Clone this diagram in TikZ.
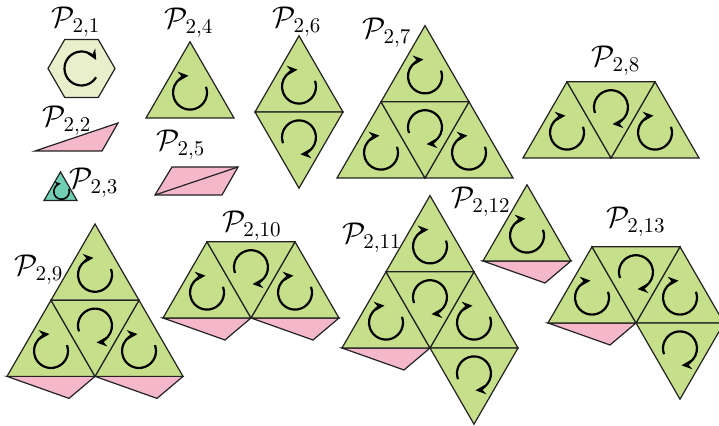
\RequirePackage{fix-cm}
\documentclass[tikz,border=0pt]{standalone}
\usetikzlibrary{arrows.meta}
\definecolor{tgreen}{HTML}{C5DF8A}
\definecolor{tpink}{HTML}{F5B8CB}
\definecolor{thex}{HTML}{E9EECB}
\definecolor{tteal}{HTML}{70CFB2}
\definecolor{tedge}{HTML}{222222}
\tikzset{
  tri/.style={fill=tgreen,draw=tedge,line width=0.6pt,line join=miter},
  flap/.style={fill=tpink,draw=tedge,line width=0.6pt},
  arw/.style={draw=black,line width=1.1pt,-{Stealth[length=5.2pt,width=4.8pt]}},
  arwsmall/.style={draw=black,line width=0.8pt,-{Stealth[length=3pt,width=2.8pt]}},
  lab/.style={inner sep=0pt,font=\fontsize{15}{18}\selectfont},
}
\newcommand{\TUp}[2]{%
  \filldraw[tri] (#1,#2) -- ++(88,0) -- ++(-44,-76.2) -- cycle;
  \draw[arw,shift={(#1+44,#2-25.4)}] (20:8.5pt) arc[start angle=20,end angle=-265,radius=8.5pt];}
\newcommand{\TDn}[2]{%
  \filldraw[tri] (#1,#2) -- ++(88,0) -- ++(-44,76.2) -- cycle;
  \draw[arw,shift={(#1+44,#2+25.4)}] (200:8.5pt) arc[start angle=200,end angle=-85,radius=8.5pt];}
\newcommand{\Flap}[2]{%
  \filldraw[flap] (#1,#2) -- ++(62,22) -- ++(26,-22) -- cycle;}
\begin{document}
\begin{tikzpicture}[x=0.5pt,y=-0.5pt]
\useasboundingbox (0,0) rectangle (719,426);
% P21 hexagon
\filldraw[fill=thex,draw=tedge,line width=0.6pt]
  (48,68.5) -- (64.75,39.5) -- (98.25,39.5) -- (115,68.5) -- (98.25,97.5) -- (64.75,97.5) -- cycle;
\draw[arw,shift={(81.5,68.5)}] (-31:8.5pt) arc[start angle=-31,end angle=-330,radius=8.5pt];
\node[lab] (l21) at (76,22) {$\mathcal{P}_{2,1}$};
% P22
\filldraw[flap] (35,151) -- (118,123) -- (102,151) -- cycle;
\node[lab] (l22) at (67,121) {$\mathcal{P}_{2,2}$};
% P23
\filldraw[fill=tteal,draw=tedge,line width=0.6pt] (44,200.5) -- (77,200.5) -- (60.5,171.9) -- cycle;
\draw[arwsmall,shift={(61.5,191.5)}] (20:3.9pt) arc[start angle=20,end angle=-265,radius=3.9pt];
\node[lab] (l23) at (94,183) {$\mathcal{P}_{2,3}$};
% P24
\TUp{146}{118}
\node[lab] (l24) at (189,23) {$\mathcal{P}_{2,4}$};
% P25
\filldraw[flap] (155,195) -- (172,167) -- (238,167) -- (222,195) -- cycle;
\draw[tedge,line width=0.6pt] (155,195) -- (238,167);
\node[lab] (l25) at (181,145) {$\mathcal{P}_{2,5}$};
% P26
\TUp{255}{112}
\TDn{255}{112}
\node[lab] (l26) at (297,22) {$\mathcal{P}_{2,6}$};
% P27
\TUp{337}{178}
\TUp{425}{178}
\TUp{381}{101.8}
\TDn{381}{101.8}
\node[lab] (l27) at (387,33) {$\mathcal{P}_{2,7}$};
% P28
\TUp{523}{158}
\TUp{611}{158}
\TDn{567}{81.8}
\node[lab] (l28) at (616,61) {$\mathcal{P}_{2,8}$};
% P29
\Flap{7}{376.4}
\Flap{95}{376.4}
\TUp{7}{376.4}
\TUp{95}{376.4}
\TUp{51}{300.2}
\TDn{51}{300.2}
\node[lab] (l29) at (39,270) {$\mathcal{P}_{2,9}$};
% P210
\Flap{163}{318}
\Flap{251}{318}
\TUp{163}{318}
\TUp{251}{318}
\TDn{207}{241.8}
\node[lab] (l210) at (252,226) {$\mathcal{P}_{2,10}$};
% P211
\Flap{342}{348}
\TUp{342}{348}
\TUp{430}{348}
\TUp{386}{271.8}
\TDn{386}{271.8}
\TDn{430}{348}
\node[lab] (l211) at (372,238) {$\mathcal{P}_{2,11}$};
% P212
\Flap{483}{261}
\TUp{483}{261}
\node[lab] (l212) at (481,202) {$\mathcal{P}_{2,12}$};
% P213
\Flap{548}{323}
\TUp{548}{323}
\TUp{636}{323}
\TDn{592}{246.8}
\TDn{636}{323}
\node[lab] (l213) at (636,222) {$\mathcal{P}_{2,13}$};
\end{tikzpicture}
\end{document}
